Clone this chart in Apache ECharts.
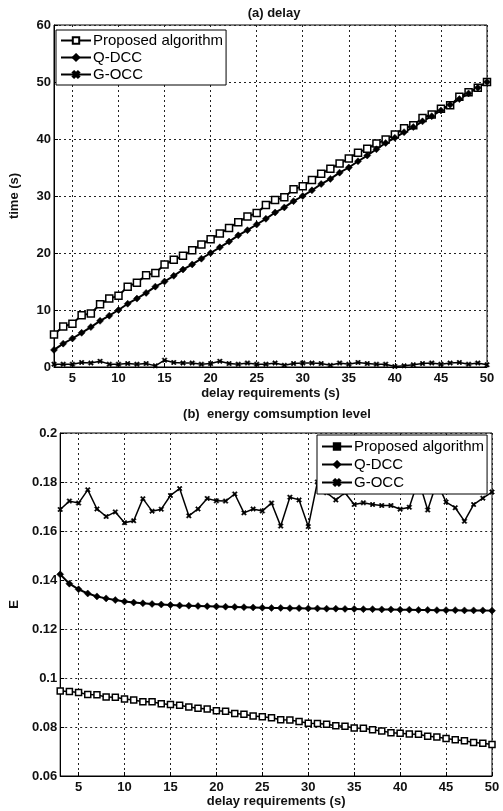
<!DOCTYPE html>
<html>
<head>
<meta charset="utf-8">
<script src="https://cdn.jsdelivr.net/npm/echarts@6/dist/echarts.min.js"></script>
<style>
  html, body { margin: 0; padding: 0; background: #fff; }
  #chart { width: 503px; height: 811px; }
</style>
</head>
<body>
<div id="chart"></div>
<script>
const delayReq = [3, 4, 5, 6, 7, 8, 9, 10, 11, 12, 13, 14, 15, 16, 17, 18, 19, 20, 21, 22, 23, 24, 25, 26,
    27, 28, 29, 30, 31, 32, 33, 34, 35, 36, 37, 38, 39, 40, 41, 42, 43, 44, 45, 46, 47, 48, 49, 50];

// (a) delay, time (s)
const delayProposed = [5.7, 7.1, 7.6, 9.1, 9.4, 11.0, 12.0, 12.5, 14.1, 14.8, 16.1, 16.5, 18.0, 18.8, 19.5, 20.5,
    21.5, 22.4, 23.4, 24.4, 25.4, 26.4, 27.0, 28.4, 29.3, 29.8, 31.2, 31.7, 32.8, 33.9, 34.8, 35.7,
    36.6, 37.6, 38.3, 39.2, 39.9, 40.8, 41.9, 42.4, 43.7, 44.3, 45.3, 45.9, 47.4, 48.2, 49.0, 50.0];
const delayQdcc = [3.0, 4.1, 5.0, 6.0, 7.0, 8.1, 9.0, 10.0, 11.1, 12.0, 13.0, 14.1, 15.0, 16.0, 17.1, 18.0,
    19.0, 20.0, 21.0, 22.0, 23.1, 24.0, 25.0, 26.0, 27.1, 28.0, 29.1, 30.0, 31.0, 32.1, 33.0, 34.1,
    35.0, 36.1, 37.1, 38.2, 39.3, 40.2, 41.2, 42.1, 43.1, 44.0, 45.0, 46.0, 47.0, 48.0, 49.0, 50.0];
const delayGocc = [0.5, 0.5, 0.5, 0.8, 0.7, 1.0, 0.5, 0.5, 0.6, 0.5, 0.6, 0.2, 1.2, 0.8, 0.7, 0.7,
    0.5, 0.6, 1.0, 0.6, 0.5, 0.7, 0.5, 0.5, 0.7, 0.3, 0.6, 0.7, 0.7, 0.6, 0.3, 0.7,
    0.5, 0.8, 0.6, 0.5, 0.5, 0.1, 0.2, 0.4, 0.6, 0.7, 0.5, 0.7, 0.8, 0.5, 0.7, 0.4];

// (b) energy comsumption level, E
const energyProposed = [0.0947, 0.0945, 0.0941, 0.0933, 0.0932, 0.0922, 0.0921, 0.0914, 0.0910, 0.0903, 0.0903, 0.0895,
    0.0892, 0.0889, 0.0882, 0.0877, 0.0873, 0.0866, 0.0864, 0.0855, 0.0852, 0.0845, 0.0842, 0.0838,
    0.0830, 0.0829, 0.0822, 0.0815, 0.0814, 0.0811, 0.0805, 0.0803, 0.0796, 0.0795, 0.0789, 0.0784,
    0.0777, 0.0774, 0.0771, 0.0770, 0.0762, 0.0759, 0.0753, 0.0748, 0.0744, 0.0737, 0.0734, 0.0729];
const energyQdcc = [0.1423, 0.1385, 0.1362, 0.1345, 0.1333, 0.1325, 0.1318, 0.1312, 0.1308, 0.1305, 0.1302, 0.1300,
    0.1298, 0.1296, 0.1295, 0.1294, 0.1293, 0.1292, 0.1291, 0.1290, 0.1289, 0.1288, 0.1287, 0.1286,
    0.1286, 0.1285, 0.1285, 0.1284, 0.1284, 0.1283, 0.1283, 0.1282, 0.1282, 0.1281, 0.1281, 0.1280,
    0.1280, 0.1279, 0.1279, 0.1278, 0.1278, 0.1277, 0.1277, 0.1277, 0.1276, 0.1276, 0.1276, 0.1275];
const energyGocc = [0.1688, 0.1722, 0.1714, 0.1768, 0.1690, 0.1659, 0.1678, 0.1634, 0.1642, 0.1732, 0.1681, 0.1689,
    0.1745, 0.1773, 0.1662, 0.1690, 0.1733, 0.1723, 0.1722, 0.1751, 0.1674, 0.1690, 0.1682, 0.1714,
    0.1620, 0.1738, 0.1727, 0.1618, 0.1800, 0.1756, 0.1727, 0.1756, 0.1708, 0.1715, 0.1708, 0.1704,
    0.1704, 0.1689, 0.1697, 0.1810, 0.1686, 0.1800, 0.1718, 0.1695, 0.1640, 0.1708, 0.1734, 0.1759];

const seriesNames = ['Proposed algorithm', 'Q-DCC', 'G-OCC'];

const FONT = '"Liberation Sans", Arial, sans-serif';
const CROSS = 'path://M2,0L5,3L8,0L10,2L7,5L10,8L8,10L5,7L2,10L0,8L3,5L0,2Z';

function pairs(ys) {
    return delayReq.map((x, i) => [x, ys[i]]);
}

function xAxisOpt(gridIndex, nameGap) {
    return {
        type: 'value', gridIndex: gridIndex, min: 3, max: 50, splitNumber: 9,
        name: 'delay requirements (s)', nameLocation: 'middle', nameGap: nameGap,
        nameTextStyle: { fontFamily: FONT, fontWeight: 'bold', fontSize: 13, color: '#111' },
        axisLine: { onZero: false, lineStyle: { color: '#000', width: 1 } },
        axisTick: { inside: true, length: 4, lineStyle: { color: '#000' } },
        axisLabel: { showMinLabel: false, margin: 5, fontFamily: FONT, fontWeight: 'bold', fontSize: 13, color: '#111' },
        splitLine: { show: true, lineStyle: { color: '#222', type: [2, 3], width: 1 } }
    };
}

function yAxisOpt(gridIndex, min, max, interval, name, nameGap, fmt) {
    return {
        type: 'value', gridIndex: gridIndex, min: min, max: max, interval: interval,
        name: name, nameLocation: 'middle', nameGap: nameGap,
        nameTextStyle: { fontFamily: FONT, fontWeight: 'bold', fontSize: 13, color: '#111' },
        axisLine: { show: true, lineStyle: { color: '#000', width: 1 } },
        axisTick: { show: true, inside: true, length: 4, lineStyle: { color: '#000' } },
        axisLabel: { margin: 3, fontFamily: FONT, fontWeight: 'bold', fontSize: 13, color: '#111', formatter: fmt },
        splitLine: { show: true, lineStyle: { color: '#222', type: [2, 3], width: 1 } }
    };
}

function lineSeries(name, idx, ys, symbol, size, fill, width) {
    return {
        name: name, type: 'line', xAxisIndex: idx, yAxisIndex: idx,
        data: pairs(ys), symbol: symbol, symbolSize: size, showAllSymbol: true,
        lineStyle: { color: '#000', width: width },
        itemStyle: { color: fill, borderColor: '#000', borderWidth: fill === '#fff' ? 1.5 : 0.5 },
        animation: false
    };
}

const chart = echarts.init(document.getElementById('chart'), null, { renderer: 'canvas' });

chart.setOption({
    backgroundColor: '#fff',
    animation: false,
    title: [
        { text: '(a) delay', left: 269, top: 2, textAlign: 'center',
          textStyle: { fontFamily: FONT, fontWeight: 'bold', fontSize: 13, color: '#111' } },
        { text: '(b)  energy comsumption level', left: 272, top: 403, textAlign: 'center',
          textStyle: { fontFamily: FONT, fontWeight: 'bold', fontSize: 13, color: '#111' } }
    ],
    grid: [
        { left: 51, top: 25, width: 436, height: 342, show: true, borderColor: '#000', borderWidth: 1 },
        { left: 56, top: 433, width: 436, height: 343, show: true, borderColor: '#000', borderWidth: 1 }
    ],
    legend: [
        {
            data: seriesNames, orient: 'vertical', left: 56, top: 30, selectedMode: false,
            itemWidth: 30, itemHeight: 8, itemGap: 2, padding: [3, 3, 3, 4],
            backgroundColor: '#fff', borderColor: '#000', borderWidth: 1, borderRadius: 0,
            textStyle: { fontFamily: FONT, fontSize: 15, color: '#000', padding: [0, 0, 0, -3] }
        },
        {
            data: [
                { name: seriesNames[0], itemStyle: { color: '#000' } },
                { name: seriesNames[1] },
                { name: seriesNames[2] }
            ],
            orient: 'vertical', left: 317, top: 435, selectedMode: false,
            itemWidth: 30, itemHeight: 8, itemGap: 3, padding: [4, 3, 4, 4],
            backgroundColor: '#fff', borderColor: '#000', borderWidth: 1, borderRadius: 0,
            textStyle: { fontFamily: FONT, fontSize: 15, color: '#000', padding: [0, 0, 0, -3] }
        }
    ],
    xAxis: [xAxisOpt(0, 20), xAxisOpt(1, 19)],
    yAxis: [
        yAxisOpt(0, 0, 60, 10, 'time (s)', 33, v => String(v)),
        yAxisOpt(1, 0.06, 0.2, 0.02, 'E', 38, v => String(Math.round(v * 100) / 100))
    ],
    series: [
        lineSeries(seriesNames[0], 0, delayProposed, 'rect', 7, '#fff', 2),
        lineSeries(seriesNames[1], 0, delayQdcc, 'diamond', 7, '#000', 2),
        lineSeries(seriesNames[2], 0, delayGocc, CROSS, 5, '#000', 1.5),
        lineSeries(seriesNames[0], 1, energyProposed, 'rect', 6, '#fff', 1.5),
        lineSeries(seriesNames[1], 1, energyQdcc, 'diamond', 7, '#000', 2),
        lineSeries(seriesNames[2], 1, energyGocc, CROSS, 5, '#000', 1.5)
    ]
});
</script>
</body>
</html>
